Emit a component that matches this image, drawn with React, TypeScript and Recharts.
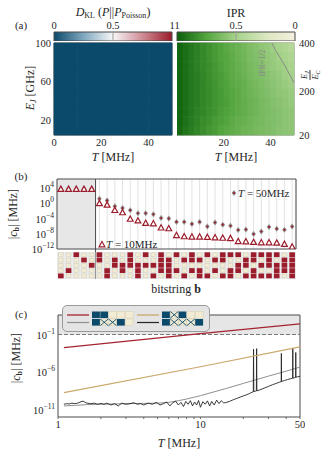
import React from 'react'
import {
  Area,
  AreaChart,
  CartesianGrid,
  Line,
  LineChart,
  ReferenceArea,
  ReferenceLine,
  Scatter,
  ScatterChart,
  XAxis,
  YAxis,
} from 'recharts'

const FONT = '"Liberation Serif", "Times New Roman", serif'
const INK = '#262626'
const FRAME = '#4a4a4a'
const MAROON = '#9b1d2c'
const NAVY = '#0c4a6b'
const CREAM = '#f2ecd5'
const FS = 10.5

// ---------- (a) heatmaps: cell centres, T in MHz, E_J in GHz (top row first)
const T_COLS = [1.25, 3.75, 6.25, 8.75, 11.25, 13.75, 16.25, 18.75, 21.25, 23.75, 26.25, 28.75, 31.25, 33.75, 36.25, 38.75, 41.25, 43.75, 46.25, 48.75]
const EJ_ROWS = [95.25, 85.75, 76.25, 66.75, 57.25, 47.75, 38.25, 28.75, 19.25, 9.75]
const IPR = [
  [0.97, 0.94, 0.91, 0.88, 0.85, 0.82, 0.79, 0.76, 0.73, 0.7, 0.68, 0.65, 0.62, 0.6, 0.57, 0.55, 0.52, 0.49, 0.46, 0.43],
  [0.97, 0.94, 0.91, 0.88, 0.85, 0.82, 0.79, 0.76, 0.74, 0.71, 0.68, 0.66, 0.63, 0.61, 0.59, 0.56, 0.54, 0.51, 0.49, 0.46],
  [0.97, 0.94, 0.91, 0.88, 0.85, 0.83, 0.8, 0.77, 0.74, 0.72, 0.69, 0.67, 0.64, 0.62, 0.6, 0.57, 0.55, 0.53, 0.51, 0.48],
  [0.97, 0.94, 0.91, 0.89, 0.86, 0.83, 0.8, 0.78, 0.75, 0.72, 0.7, 0.68, 0.65, 0.63, 0.61, 0.59, 0.57, 0.55, 0.52, 0.5],
  [0.97, 0.94, 0.91, 0.89, 0.86, 0.83, 0.81, 0.78, 0.76, 0.73, 0.71, 0.69, 0.66, 0.64, 0.62, 0.6, 0.58, 0.56, 0.54, 0.52],
  [0.97, 0.94, 0.91, 0.89, 0.86, 0.84, 0.81, 0.79, 0.76, 0.74, 0.72, 0.69, 0.67, 0.65, 0.63, 0.61, 0.59, 0.57, 0.56, 0.54],
  [0.97, 0.94, 0.91, 0.89, 0.86, 0.84, 0.81, 0.79, 0.77, 0.74, 0.72, 0.7, 0.68, 0.66, 0.64, 0.62, 0.6, 0.59, 0.57, 0.55],
  [0.97, 0.94, 0.91, 0.88, 0.86, 0.83, 0.81, 0.78, 0.76, 0.74, 0.72, 0.7, 0.68, 0.66, 0.64, 0.63, 0.61, 0.6, 0.58, 0.57],
  [0.97, 0.93, 0.9, 0.87, 0.84, 0.82, 0.79, 0.77, 0.75, 0.72, 0.7, 0.69, 0.67, 0.65, 0.64, 0.62, 0.61, 0.6, 0.58, 0.57],
  [0.96, 0.92, 0.89, 0.86, 0.83, 0.8, 0.78, 0.75, 0.73, 0.71, 0.69, 0.67, 0.66, 0.64, 0.63, 0.62, 0.61, 0.59, 0.58, 0.57],
]
const DKL_COLS = [5, 15, 25, 35, 45]
const DKL_ROWS = [88.125, 64.375, 40.625, 16.875]
const DKL = [
  [0, 0, 0, 0, 0],
  [0, 0, 0, 0, 0],
  [0, 0, 0, 0, 0],
  [0, 0, 0, 0, 0],
]
const HALF_T = [40.5, 42, 44, 46, 48, 50]
const HALF_EJ = [100, 93, 85, 77, 68, 59]

// ---------- (b) coefficients per bitstring
const BITSTRINGS = [
  '00001', '00010', '10000', '01000', '00100', '11000', '00011', '01100', '00110', '11100', '00111',
  '10100', '00101', '11110', '01111', '10010', '01001', '11010', '01011', '10001', '01010', '11001',
  '10011', '10110', '01101', '11011', '10101', '11101', '10111', '01110', '11111',
]
const C_50MHZ = [7e3, 7e3, 7e3, 7e3, 7e3, 16, 6, 0.16, 0.06, 0.016, 2.5e-3, 2.5e-3, 1.3e-3, 1.4e-4, 1e-4, 1.3e-5, 1.3e-5, 4e-6, 1.3e-5, 8e-7, 9e-6, 2.5e-6, 1.3e-6, 1e-7, 1.3e-7, 8.5e-9, 4e-8, 6.3e-7, 2e-7, 1.1e-7, 8e-7]
const C_10MHZ = [5.5e3, 5.5e3, 5.5e3, 5.5e3, 5.5e3, 1, 0.4, 0.016, 4e-3, 8e-5, 2.8e-5, 6.3e-6, 5e-6, 4e-7, 2.5e-7, 4e-9, 2e-9, 1.6e-9, 1.6e-9, 1.3e-9, 1e-9, 8e-10, 6.3e-10, 1e-10, 9e-11, 6.3e-11, 5e-11, 5e-11, 4e-11, 2e-11, 4e-12]
const B_YTICKS = [1e4, 1, 1e-4, 1e-8, 1e-12]

// ---------- (c) |c_b| vs T
const RED_T = [1.1, 10, 50]
const RED_V = [1.8e-3, 0.13, 2.7]
const GOLD_T = [1.1, 10, 50]
const GOLD_V = [1.8e-9, 5e-6, 2.2e-3]
const GRAY_T = [1.1, 1.3, 1.6, 2, 2.5, 3, 4, 5, 6, 7, 8, 10, 15, 20, 30, 40, 50]
const GRAY_V = [3e-11, 3.5e-11, 4.5e-11, 5e-11, 5.5e-11, 6e-11, 6.5e-11, 7e-11, 9e-11, 1.5e-10, 2.5e-10, 7e-10, 6e-9, 3e-8, 2.8e-7, 1.3e-6, 4.5e-6]
const BLACK_T = [
  1.1, 1.15, 1.2, 1.25, 1.3, 1.35, 1.4, 1.45, 1.5, 1.55, 1.6, 1.7, 1.8, 1.9, 2.0, 2.1, 2.2, 2.35, 2.5, 2.65,
  2.8, 3.0, 3.2, 3.4, 3.6, 3.8, 4.0, 4.3, 4.6, 4.9, 5.2, 5.5, 5.8, 6.1, 6.4, 6.7, 7.0, 7.3, 7.6, 7.9,
  8.2, 8.5, 8.8, 9.1, 9.4, 9.7, 10, 10.4, 10.8, 11.2, 11.6, 12, 12.5, 13, 13.5, 14, 14.5, 15, 16, 17,
  18, 19, 20, 21, 22, 23, 23.5, 23.6, 23.7, 24.3, 24.7, 24.8, 24.9, 26, 28, 30, 32, 34, 36, 36.9,
  37, 37.1, 39, 41, 43, 44.4, 44.5, 44.6, 45.5, 46.6, 46.7, 46.8, 48, 50,
]
const BLACK_V = [
  5e-11, 6e-11, 5.5e-11, 7e-11, 6e-11, 6.5e-11, 8e-11, 1.1e-10, 1.3e-10, 9e-11, 7e-11, 6e-11, 7e-11, 5e-11, 6.5e-11, 5e-11, 7e-11, 4e-11, 6e-11, 3e-11,
  7e-11, 5e-11, 6e-11, 8e-11, 5e-11, 6e-11, 4e-11, 7e-11, 5e-11, 9e-11, 4e-11, 6e-11, 1e-10, 3e-11, 8e-11, 1.3e-10, 4e-11, 9e-11, 2.5e-11, 1.2e-10,
  5e-11, 1.5e-10, 3e-11, 1e-10, 4e-11, 1.6e-10, 2e-11, 1.1e-10, 5e-11, 1.4e-10, 3e-11, 1.2e-10, 4e-11, 1.8e-10, 6e-11, 1.5e-10, 8e-11, 8e-11, 1.2e-10, 2e-10,
  3e-10, 4.5e-10, 6.5e-10, 9e-10, 1.3e-9, 2e-9, 2.3e-9, 1.1e-3, 2.4e-9, 2.8e-9, 3e-9, 1.3e-3, 3.1e-9, 4e-9, 7e-9, 1.2e-8, 2e-8, 3e-8, 4.5e-8, 5.2e-8,
  3e-4, 5.4e-8, 7.5e-8, 1e-7, 1.3e-7, 1.5e-7, 1.6e-3, 1.5e-7, 1.7e-7, 1.9e-7, 4e-4, 2e-7, 2.3e-7, 2.7e-7,
]
const C_XTICKS = [1, 2, 3, 4, 5, 6, 7, 8, 9, 10, 20, 30, 40, 50]
const C_YTICKS = [1e-11, 1e-6, 1e-1]

// colour maps
const DIVERGING: [number, string][] = [[0, '#0c4a6b'], [0.25, '#7fa7bf'], [0.5, '#f7f7f7'], [0.75, '#cf8b95'], [1, '#9b1b2b']]
const GREENS: [number, string][] = [[0, '#f6f0df'], [0.25, '#dae7bf'], [0.5, '#a6d28a'], [0.75, '#53a53e'], [1, '#0a5e0a']]

function hex(c: string) {
  return [1, 3, 5].map((k) => parseInt(c.slice(k, k + 2), 16))
}
function cmap(stops: [number, string][], v: number) {
  const x = Math.max(0, Math.min(1, v))
  for (let k = 1; k < stops.length; k++) {
    if (x <= stops[k][0]) {
      const f = (x - stops[k - 1][0]) / (stops[k][0] - stops[k - 1][0])
      const a = hex(stops[k - 1][1])
      const b = hex(stops[k][1])
      return `rgb(${a.map((q, i) => Math.round(q + (b[i] - q) * f)).join(',')})`
    }
  }
  return stops[stops.length - 1][1]
}

const iprCells = EJ_ROWS.flatMap((ej, r) => T_COLS.map((t, c) => ({ t, ej, v: IPR[r][c] })))
const dklCells = DKL_ROWS.flatMap((ej, r) => DKL_COLS.map((t, c) => ({ t, ej, v: DKL[r][c] })))
const halfLine = HALF_T.map((t, i) => ({ t, ej: HALF_EJ[i] }))
const bRows = BITSTRINGS.map((b, i) => ({ i: i + 1, hi: C_50MHZ[i], lo: C_10MHZ[i] }))
const bTicks = bRows.map((r) => r.i)
const zip = (ts: number[], vs: number[]) => ts.map((t, i) => ({ t, v: vs[i] }))
const CB_DATA = [{ v: 0, y: 1 }, { v: 1, y: 1 }]

// plot geometry (px)
const HEAT_W = 118
const HEAT_H = 92
const B_PLOT_W = 239
const B_PLOT_BOTTOM = 75

const heatCell = (w: number, h: number, stops: [number, string][]) => (p: any) => (
  <rect x={p.cx - w / 2 - 0.3} y={p.cy - h / 2 - 0.3} width={w + 0.6} height={h + 0.6} fill={cmap(stops, p.payload.v)} />
)

const tickStyle = { fontSize: FS, fill: INK, fontFamily: FONT }

function PowTick(props: any) {
  const { x, y, payload } = props
  const e = Math.round(Math.log10(payload.value))
  return (
    <text x={x} y={y} dy={4} textAnchor="end" fontSize={FS} fontFamily={FONT} fill={INK}>
      10
      <tspan dy={-5} fontSize={7.5}>{e < 0 ? `\u2212${-e}` : e}</tspan>
    </text>
  )
}

function BitTick(props: any) {
  const { x, payload } = props
  const bits = BITSTRINGS[payload.value - 1]
  if (!bits) return <g />
  const colW = B_PLOT_W / BITSTRINGS.length
  const top = B_PLOT_BOTTOM + 3
  return (
    <g>
      <rect x={x - colW / 2} y={top} width={colW} height={27} fill="#e8e8e8" />
      {bits.split('').map((b, r) =>
        b === '1' ? (
          <rect key={r} x={x - 2.8} y={top + r * 5.3 + 0.3} width={5.6} height={4.8} fill={MAROON} />
        ) : (
          <rect key={r} x={x - 2.2} y={top + r * 5.3 + 0.9} width={4.4} height={3.7} fill={CREAM} stroke="#d6cfb4" strokeWidth={0.5} />
        ),
      )}
      {payload.value === 5 && (
        <line x1={x + colW / 2} x2={x + colW / 2} y1={top - 3} y2={top + 27} stroke={FRAME} strokeWidth={1} />
      )}
    </g>
  )
}

const Tri = (p: any) => (
  <path
    key={`t${p.index}`}
    d={`M${p.cx},${p.cy - 3} L${p.cx + 2.9},${p.cy + 2.3} L${p.cx - 2.9},${p.cy + 2.3} Z`}
    fill="#fff"
    stroke={MAROON}
    strokeWidth={1.2}
  />
)
const Dia = (p: any) => (
  <g key={`d${p.index}`}>
    <path d={`M${p.cx},${p.cy - 3} L${p.cx + 2.3},${p.cy} L${p.cx},${p.cy + 3} L${p.cx - 2.3},${p.cy} Z`} fill="#8d8d8d" />
    <circle cx={p.cx} cy={p.cy} r={1.1} fill={MAROON} />
  </g>
)

function Tag({ x, y, children, size = 11, rotate = 0, color = INK, left = false }: any) {
  return (
    <div
      style={{
        position: 'absolute',
        left: x,
        top: y,
        transform: `translate(${left ? '0' : '-50%'},-50%) rotate(${rotate}deg)`,
        whiteSpace: 'nowrap',
        fontSize: size,
        color,
        lineHeight: 1,
        fontFamily: FONT,
      }}
    >
      {children}
    </div>
  )
}

const sub = (s: React.ReactNode, size = 8) => <sub style={{ fontSize: size, verticalAlign: -2 }}>{s}</sub>

function Colorbar({ id, stops, reversed }: { id: string; stops: [number, string][]; reversed?: boolean }) {
  const ordered = reversed ? [...stops].reverse() : stops
  return (
    <AreaChart width={134} height={23} data={CB_DATA} margin={{ top: 0, right: 8, bottom: 0, left: 8 }}>
      <defs>
        <linearGradient id={id} x1="0" y1="0" x2="1" y2="0">
          {ordered.map(([o, c]) => (
            <stop key={o} offset={reversed ? 1 - o : o} stopColor={c} />
          ))}
        </linearGradient>
      </defs>
      <XAxis
        type="number"
        dataKey="v"
        orientation="top"
        domain={[0, 1]}
        ticks={[0, 0.5, 1]}
        reversed={reversed}
        height={14}
        interval={0}
        tick={tickStyle}
        tickLine={false}
        axisLine={false}
        tickSize={0}
        tickMargin={3}
      />
      <YAxis hide domain={[0, 1]} />
      <Area dataKey="y" fill={`url(#${id})`} fillOpacity={1} stroke="none" isAnimationActive={false} />
      <ReferenceLine x={0.5} stroke="#9a9a9a" />
      <ReferenceArea x1={0} x2={1} y1={0} y2={1} fill="none" stroke={FRAME} strokeWidth={1} />
    </AreaChart>
  )
}

function LegendSquares({ x, y, kinds }: { x: number; y: number; kinds: string }) {
  const w = 8.3
  const h = 6.6
  return (
    <g>
      {kinds.split('').map((k, i) => {
        const sx = x + i * w
        if (k === 'n') return <rect key={i} x={sx} y={y} width={w - 0.4} height={h} fill={NAVY} />
        return (
          <g key={i}>
            <rect x={sx} y={y} width={w - 0.4} height={h} fill={CREAM} stroke="#d6cfb4" strokeWidth={0.5} />
            {k === 'x' && (
              <path d={`M${sx},${y} L${sx + w - 0.4},${y + h} M${sx + w - 0.4},${y} L${sx},${y + h}`} stroke={NAVY} strokeWidth={0.9} />
            )}
          </g>
        )
      })}
    </g>
  )
}

export default function App() {
  return (
    <div style={{ position: 'absolute', left: 0, top: 0, width: 329, height: 460, background: '#fff', overflow: 'hidden', fontFamily: FONT }}>
      {/* ---------------- (a) ---------------- */}
      <Tag x={21} y={25}>(a)</Tag>
      <Tag x={113} y={13} size={12}>
        <i>D</i>
        {sub('KL')} (<i>P</i>||<i>P</i>
        {sub('Poisson')})
      </Tag>
      <Tag x={236} y={13} size={12}>IPR</Tag>

      <div style={{ position: 'absolute', left: 46, top: 18 }}>
        <Colorbar id="gDkl" stops={DIVERGING} />
      </div>
      <div style={{ position: 'absolute', left: 169, top: 18 }}>
        <Colorbar id="gIpr" stops={GREENS} reversed />
      </div>

      <div style={{ position: 'absolute', left: 0, top: 38 }}>
        <ScatterChart width={176} height={125} margin={{ top: 5, right: 4, bottom: 0, left: 0 }}>
          <XAxis type="number" dataKey="t" domain={[0, 50]} ticks={[0, 20, 40]} height={28} tick={tickStyle} tickLine={false} axisLine={false} tickSize={0} tickMargin={4} />
          <YAxis type="number" dataKey="ej" domain={[5, 100]} ticks={[20, 60, 100]} width={54} tick={tickStyle} tickLine={false} axisLine={false} tickSize={0} tickMargin={3} />
          <Scatter data={dklCells} shape={heatCell(HEAT_W / DKL_COLS.length, HEAT_H / DKL_ROWS.length, DIVERGING)} isAnimationActive={false} />
          <ReferenceArea x1={0} x2={50} y1={5} y2={100} fill="none" stroke={FRAME} strokeWidth={1} />
        </ScatterChart>
      </div>

      <div style={{ position: 'absolute', left: 177, top: 38 }}>
        <ScatterChart width={152} height={125} margin={{ top: 5, right: 0, bottom: 0, left: 0 }}>
          <XAxis type="number" dataKey="t" domain={[0, 50]} ticks={[0, 20, 40]} height={28} tick={tickStyle} tickLine={false} axisLine={false} tickSize={0} tickMargin={4} />
          <YAxis
            type="number"
            dataKey="ej"
            orientation="right"
            domain={[5, 100]}
            ticks={[5, 50, 100]}
            tickFormatter={(v: number) => String(v * 4)}
            width={35}
            tick={tickStyle}
            tickLine={false}
            axisLine={false}
            tickSize={0}
            tickMargin={5}
          />
          <Scatter data={iprCells} shape={heatCell(HEAT_W / T_COLS.length, HEAT_H / EJ_ROWS.length, GREENS)} isAnimationActive={false} />
          <Scatter data={halfLine} line={{ stroke: '#8a8a8a', strokeWidth: 1 }} shape={() => <g />} isAnimationActive={false} />
          <ReferenceArea x1={0} x2={50} y1={5} y2={100} fill="none" stroke="#777" strokeWidth={1} />
        </ScatterChart>
      </div>

      <Tag x={31} y={88} rotate={-90} size={12}>
        <i>E</i>
        {sub(<i>J</i>)} [GHz]
      </Tag>
      <Tag x={113} y={157} size={12}>
        <i>T</i> [MHz]
      </Tag>
      <Tag x={236} y={157} size={12}>
        <i>T</i> [MHz]
      </Tag>
      <Tag x={263} y={63} rotate={-90} size={8} color="#8a8a8a">
        IPR=1/2
      </Tag>
      <Tag x={310} y={75} rotate={-90} size={8.5}>
        <span style={{ display: 'inline-flex', flexDirection: 'column', alignItems: 'center' }}>
          <span style={{ borderBottom: '0.8px solid #333', padding: '0 1px' }}>
            <i>E</i>
            {sub(<i>J</i>, 6)}
          </span>
          <span>
            <i>E</i>
            {sub(<i>C</i>, 6)}
          </span>
        </span>
      </Tag>

      {/* ---------------- (b) ---------------- */}
      <Tag x={21} y={176}>(b)</Tag>
      <div style={{ position: 'absolute', left: 0, top: 174 }}>
        <LineChart width={300} height={107} data={bRows} margin={{ top: 5, right: 4, bottom: 0, left: 0 }}>
          <CartesianGrid vertical horizontal={false} stroke="#e2e2e2" />
          <ReferenceArea x1={0.5} x2={5.5} y1={1e-12} y2={2.5e6} fill="#e7e7e7" fillOpacity={1} stroke="none" />
          <XAxis
            type="number"
            dataKey="i"
            domain={[0.5, 31.5]}
            ticks={bTicks}
            interval={0}
            height={32}
            tick={<BitTick />}
            tickLine={false}
            axisLine={false}
          />
          <YAxis
            type="number"
            scale="log"
            domain={[1e-12, 2.5e6]}
            allowDataOverflow
            ticks={B_YTICKS}
            interval={0}
            width={57}
            tick={<PowTick />}
            tickLine={false}
            axisLine={false}
            tickSize={0}
            tickMargin={3}
          />
          <ReferenceLine x={5.5} stroke={FRAME} />
          <Line dataKey="hi" stroke="transparent" strokeWidth={0} dot={Dia} activeDot={false} isAnimationActive={false} />
          <Line dataKey="lo" stroke="transparent" strokeWidth={0} dot={Tri} activeDot={false} isAnimationActive={false} />
          <ReferenceArea x1={0.5} x2={31.5} y1={1e-12} y2={2.5e6} fill="none" stroke={FRAME} strokeWidth={1} />
        </LineChart>
      </div>
      <Tag x={14} y={214} rotate={-90} size={12}>
        |<i>c</i>
        {sub(<b>b</b>)}| [MHz]
      </Tag>
      <svg style={{ position: 'absolute', left: 229, top: 188 }} width={10} height={10}>
        <Dia cx={5} cy={5} index={0} />
      </svg>
      <Tag x={238} y={193} left size={11}>
        <i>T</i> = 50MHz
      </Tag>
      <svg style={{ position: 'absolute', left: 97, top: 239 }} width={10} height={10}>
        <Tri cx={5} cy={5.5} index={0} />
      </svg>
      <Tag x={106} y={244} left size={11}>
        <i>T</i> = 10MHz
      </Tag>
      <Tag x={176} y={289} size={12}>
        bitstring <b>b</b>
      </Tag>

      {/* ---------------- (c) ---------------- */}
      <Tag x={21} y={314}>(c)</Tag>
      <div style={{ position: 'absolute', left: 0, top: 313 }}>
        <LineChart width={305} height={124} margin={{ top: 2, right: 5, bottom: 0, left: 0 }}>
          <ReferenceArea x1={1} x2={50} y1={0.1} y2={40} fill="#e6e6e6" fillOpacity={1} stroke="none" />
          <XAxis
            type="number"
            dataKey="t"
            scale="log"
            domain={[1, 50]}
            allowDataOverflow
            ticks={C_XTICKS}
            interval={0}
            height={20}
            tick={tickStyle}
            tickFormatter={(v: number) => (v === 1 || v === 10 || v === 50 ? String(v) : '')}
            tickLine={{ stroke: '#666' }}
            tickSize={2}
            tickMargin={2}
            axisLine={false}
          />
          <YAxis
            type="number"
            scale="log"
            domain={[1e-12, 40]}
            allowDataOverflow
            ticks={C_YTICKS}
            interval={0}
            width={58}
            tick={<PowTick />}
            tickLine={false}
            axisLine={false}
            tickSize={0}
            tickMargin={3}
          />
          <ReferenceLine y={0.1} stroke="#777" strokeDasharray="4 2" />
          <Line data={zip(GRAY_T, GRAY_V)} dataKey="v" stroke="#8f8f8f" strokeWidth={1} dot={false} activeDot={false} isAnimationActive={false} />
          <Line data={zip(BLACK_T, BLACK_V)} dataKey="v" stroke="#262626" strokeWidth={0.9} dot={false} activeDot={false} isAnimationActive={false} />
          <Line data={zip(GOLD_T, GOLD_V)} dataKey="v" stroke="#c9a86a" strokeWidth={1.2} dot={false} activeDot={false} isAnimationActive={false} />
          <Line data={zip(RED_T, RED_V)} dataKey="v" stroke="#a3232f" strokeWidth={1.3} dot={false} activeDot={false} isAnimationActive={false} />
          <ReferenceArea x1={1} x2={50} y1={1e-12} y2={40} fill="none" stroke={FRAME} strokeWidth={1} />
        </LineChart>
      </div>
      <div
        style={{
          position: 'absolute',
          left: 62,
          top: 305,
          width: 146,
          height: 25,
          border: '1px solid #9a9a9a',
          borderRadius: 5,
          background: '#e4e4e4',
        }}
      >
        <svg width={146} height={25} style={{ display: 'block' }}>
          <line x1={4} x2={26} y1={9} y2={9} stroke="#a3232f" strokeWidth={1.3} />
          <LegendSquares x={29} y={5.5} kinds="nnccc" />
          <line x1={74} x2={96} y1={9} y2={9} stroke="#c9a86a" strokeWidth={1.3} />
          <LegendSquares x={99} y={5.5} kinds="nxncc" />
          <line x1={4} x2={26} y1={16.5} y2={16.5} stroke="#8f8f8f" strokeWidth={1.2} />
          <LegendSquares x={29} y={13} kinds="nxxnc" />
          <line x1={74} x2={96} y1={16.5} y2={16.5} stroke="#262626" strokeWidth={1.2} />
          <LegendSquares x={99} y={13} kinds="nxxxn" />
        </svg>
      </div>
      <Tag x={17} y={358} rotate={-90} size={12}>
        |<i>c</i>
        {sub(<b>b</b>)}| [MHz]
      </Tag>
      <Tag x={179} y={443} size={12}>
        <i>T</i> [MHz]
      </Tag>
    </div>
  )
}
